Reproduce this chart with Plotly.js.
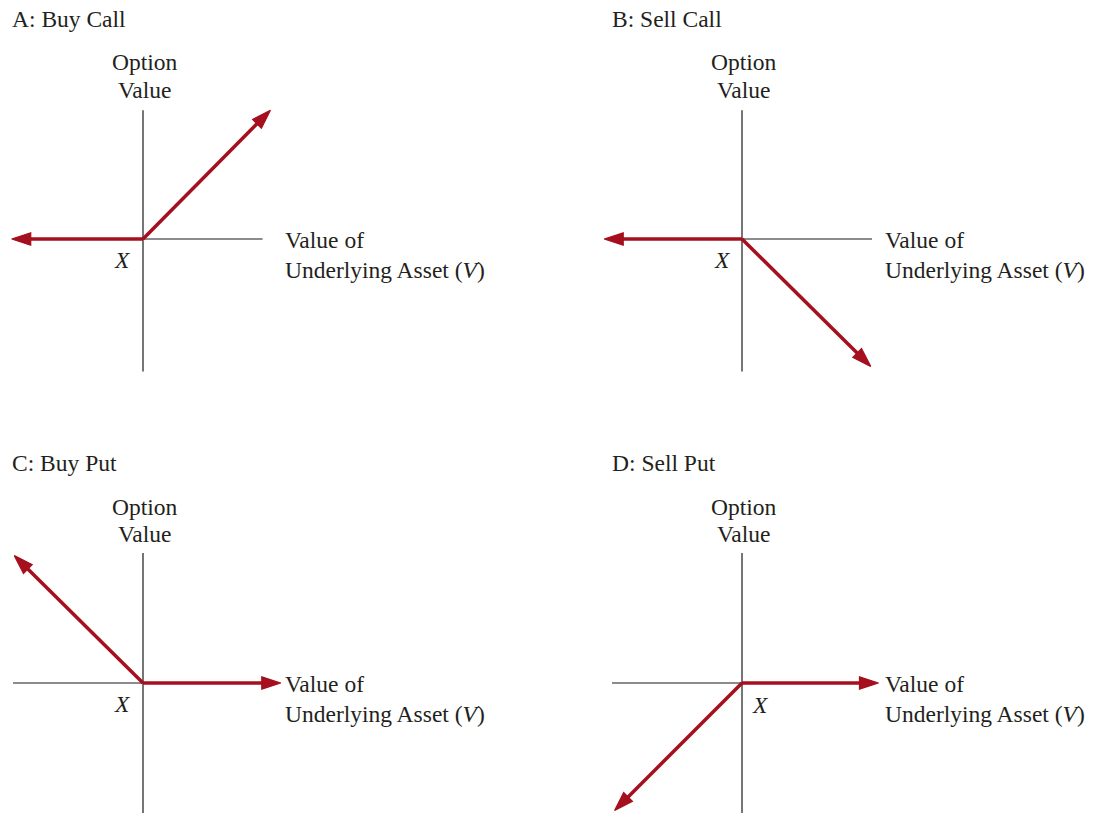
<!DOCTYPE html>
<html>
<head>
<meta charset="utf-8">
<script src="https://cdn.plot.ly/plotly-3.0.1.min.js"></script>
<style>html,body{margin:0;padding:0;background:#fff;}#chart{width:1100px;height:814px;}</style>
</head>
<body>
<div id="chart"></div>
<script>
// Panel titles
const panelTitles = ["A: Buy Call", "B: Sell Call", "C: Buy Put", "D: Sell Put"];
// Underlying value relative to strike X (left end, X, right end)
const buyCallV   = [-1.01, 0, 0.98];
const buyCallPay = [0, 0, 0.99];
const sellCallV   = [-1.06, 0, 0.99];
const sellCallPay = [0, 0, -0.98];
const buyPutV   = [-0.99, 0, 1.06];
const buyPutPay = [0.98, 0, 0];
const sellPutV   = [-0.98, 0, 1.05];
const sellPutPay = [-0.98, 0, 0];
const yLabel = ["Option", "Value"];
const xLabel = ["Value of", "Underlying Asset (<i>V</i>)"];
const strikeLabel = "<i>X</i>";

const W = 1100, H = 814;
const RED = "#A50F1E";
const INK = "#231f20";
const FONT = "Liberation Serif, Times New Roman, serif";

const panels = [
  {V: buyCallV, P: buyCallPay, xa: "x", ya: "y"},
  {V: sellCallV, P: sellCallPay, xa: "x2", ya: "y2"},
  {V: buyPutV, P: buyPutPay, xa: "x3", ya: "y3"},
  {V: sellPutV, P: sellPutPay, xa: "x4", ya: "y4"}
];

const traces = [];
panels.forEach(p => {
  [0, 2].forEach(end => {
    traces.push({
      type: "scatter", mode: "lines+markers",
      x: [p.V[1], p.V[end]], y: [p.P[1], p.P[end]],
      xaxis: p.xa, yaxis: p.ya,
      line: {color: RED, width: 3.5},
      marker: {symbol: "arrow", size: [0, 20], color: RED, opacity: 1,
               angleref: "previous", line: {width: 1.2, color: RED}},
      cliponaxis: false, hoverinfo: "skip", showlegend: false
    });
  });
});

// Axis line extents (units of V / payoff)
const axCol = "#1a1a1a";
function axisShapes(xr, yr, hx, vy) {
  return [
    {type: "line", xref: xr, yref: yr, x0: hx[0], x1: hx[1], y0: 0, y1: 0, line: {color: axCol, width: 1.2}, layer: "below"},
    {type: "line", xref: xr, yref: yr, x0: 0, x1: 0, y0: vy[0], y1: vy[1], line: {color: axCol, width: 1.2}, layer: "below"}
  ];
}
const shapes = [].concat(
  axisShapes("x", "y", [-1.0, 0.92], [-1.02, 0.99]),
  axisShapes("x2", "y2", [-1.05, 1.0], [-1.02, 0.99]),
  axisShapes("x3", "y3", [-1.0, 0.5], [-1.0, 1.0]),
  axisShapes("x4", "y4", [-1.0, 0.5], [-1.0, 1.0])
);

function ann(text, xpx, ypx, xanchor) {
  return {text: text, xref: "paper", yref: "paper", x: xpx / W, y: 1 - ypx / H,
    xanchor: xanchor, yanchor: "middle", showarrow: false,
    font: {family: FONT, size: 23.5, color: INK}};
}
const annotations = [];
const colX = [0, 600];
const rowY = [0, 444];
panelTitles.forEach((t, i) => {
  const dx = colX[i % 2], dy = rowY[Math.floor(i / 2)];
  annotations.push(ann(t, 10 + dx, 19 + dy, "left"));
  annotations.push(ann(yLabel[0], 144.5 + dx, 62.5 + dy, "center"));
  annotations.push(ann(yLabel[1], 144.5 + dx, 90 + dy, "center"));
  annotations.push(ann(xLabel[0], 283 + dx, 240 + dy, "left"));
  annotations.push(ann(xLabel[1], 283 + dx, 270 + dy, "left"));
  if (i === 3) annotations.push(ann(strikeLabel, 750, 704.5, "left"));
  else annotations.push(ann(strikeLabel, 133 + dx, 260 + dy, "right"));
});

const S = 130; // px per unit
function xr(origin, left) { return [-(origin - left) / S, (left + 550 - origin) / S]; }
function yr(origin, top) { return [-(top + 407 - origin) / S, (origin - top) / S]; }
const hidden = {showgrid: false, zeroline: false, showticklabels: false, showline: false, ticks: "", fixedrange: true};

const layout = {
  width: W, height: H,
  margin: {l: 0, r: 0, t: 0, b: 0},
  paper_bgcolor: "#fff", plot_bgcolor: "#fff",
  showlegend: false,
  xaxis:  Object.assign({domain: [0, 0.5], range: xr(143, 0), anchor: "y"}, hidden),
  yaxis:  Object.assign({domain: [0.5, 1], range: yr(239, 0), anchor: "x"}, hidden),
  xaxis2: Object.assign({domain: [0.5, 1], range: xr(742, 550), anchor: "y2"}, hidden),
  yaxis2: Object.assign({domain: [0.5, 1], range: yr(239, 0), anchor: "x2"}, hidden),
  xaxis3: Object.assign({domain: [0, 0.5], range: xr(143, 0), anchor: "y3"}, hidden),
  yaxis3: Object.assign({domain: [0, 0.5], range: yr(683, 407), anchor: "x3"}, hidden),
  xaxis4: Object.assign({domain: [0.5, 1], range: xr(742, 550), anchor: "y4"}, hidden),
  yaxis4: Object.assign({domain: [0, 0.5], range: yr(683, 407), anchor: "x4"}, hidden),
  shapes: shapes,
  annotations: annotations
};

Plotly.newPlot("chart", traces, layout, {displayModeBar: false, staticPlot: true});
</script>
</body>
</html>
